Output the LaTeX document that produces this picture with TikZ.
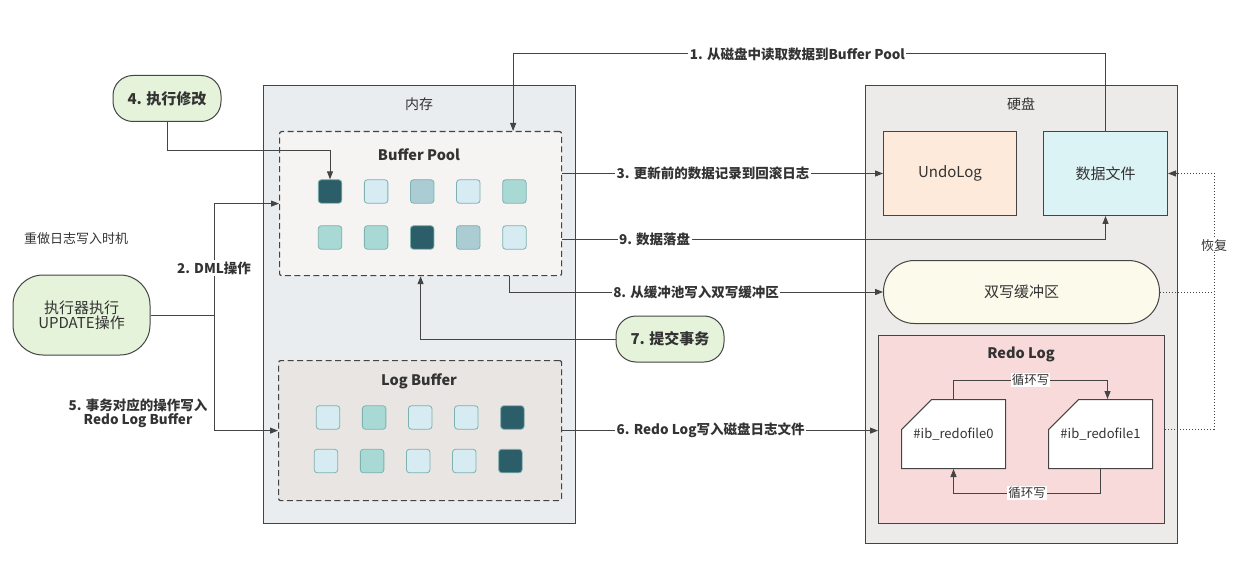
\documentclass[tikz,border=0pt]{standalone}
\usepackage{fontspec}
\setmainfont{Noto Sans CJK SC}
\usepackage{xcolor}
\usetikzlibrary{arrows.meta,positioning,shapes.misc,calc}
\definecolor{linec}{HTML}{444444}
\definecolor{memfill}{HTML}{E9EDEF}
\definecolor{bpfill}{HTML}{F5F4F2}
\definecolor{lbfill}{HTML}{E9E5E2}
\definecolor{diskfill}{HTML}{EDEBEA}
\definecolor{undofill}{HTML}{FDEADB}
\definecolor{datafill}{HTML}{DCF3F6}
\definecolor{dwfill}{HTML}{FCFAEB}
\definecolor{redofill}{HTML}{F9DADA}
\definecolor{greenfill}{HTML}{E4F3DA}
\definecolor{cdark}{HTML}{2C5E6A}
\definecolor{clight}{HTML}{D6EBF2}
\definecolor{cgrey}{HTML}{ABCCD3}
\definecolor{cteal}{HTML}{A9D9D4}
\definecolor{cellline}{HTML}{7DB2AE}
\definecolor{txt}{HTML}{333333}
\newcommand{\fs}[1]{\fontsize{#1}{#1}\selectfont}

\begin{document}
\begin{tikzpicture}[x=1pt,y=-1pt,font=\fs{13.5},text=txt,
  box/.style={draw=linec,line width=1pt,inner sep=0pt},
  pool/.style={draw=linec,line width=1.2pt,dash pattern=on 6pt off 3.5pt,rounded corners=2pt,inner sep=0pt},
  cell/.style={draw=cellline,line width=0.8pt,rounded corners=3pt,minimum size=23.5pt,inner sep=0pt},
  greenbox/.style={draw=linec,line width=1pt,fill=greenfill,inner sep=0pt},
  filebox/.style={draw=linec,line width=1pt,fill=white,chamfered rectangle,
    chamfered rectangle corners=north west,chamfered rectangle xsep=26pt,
    chamfered rectangle ysep=24pt,minimum width=104pt,minimum height=69pt,inner sep=0pt},
  conn/.style={draw=linec,line width=1pt,-{Triangle[length=8pt,width=6pt]}},
  plain/.style={draw=linec,line width=1pt},
  dots/.style={draw=linec,line width=1pt,dotted},
  lbl/.style={fill=white,inner sep=1.5pt,font=\fs{13.5}\bfseries},
  small/.style={fill=white,inner sep=1pt,font=\fs{12.5}}]
  \useasboundingbox (0,0) rectangle (1257,561);
  % memory side
  \node[box,fill=memfill,minimum width=312pt,minimum height=438pt,anchor=north west] (mem) at (263,85) {};
  \node[font=\fs{14}] (memtitle) at (419,104) {内存};
  \node[pool,fill=bpfill,minimum width=282pt,minimum height=144pt,anchor=north west] (bp) at (279,131) {};
  \node[font=\fs{14.5}\bfseries] (bptitle) at (419,155) {Buffer Pool};
  \node[pool,fill=lbfill,minimum width=283pt,minimum height=140pt,anchor=north west] (lb) at (278,360) {};
  \node[font=\fs{14.5}\bfseries] (lbtitle) at (419,381) {Log Buffer};
  % cells
  \foreach \c [count=\i] in {cdark,clight,cgrey,clight,cteal}
    \node[cell,fill=\c] (bpa\i) at ({330+46.1*(\i-1)},191.5) {};
  \foreach \c [count=\i] in {cteal,cteal,cdark,cgrey,clight}
    \node[cell,fill=\c] (bpb\i) at ({330+46.1*(\i-1)},237.5) {};
  \foreach \c [count=\i] in {clight,cteal,clight,clight,cdark}
    \node[cell,fill=\c] (lba\i) at ({328+46.1*(\i-1)},417.5) {};
  \foreach \c [count=\i] in {clight,cteal,clight,clight,cdark}
    \node[cell,fill=\c] (lbb\i) at ({326+46.1*(\i-1)},461) {};
  % disk side
  \node[box,fill=diskfill,minimum width=312pt,minimum height=458pt,anchor=north west] (disk) at (865,85) {};
  \node[font=\fs{14}] (disktitle) at (1021,104) {硬盘};
  \node[box,fill=undofill,minimum width=133pt,minimum height=84pt,anchor=north west,font=\fs{15}] (undo) at (883,131) {UndoLog};
  \node[box,fill=datafill,minimum width=124pt,minimum height=84pt,anchor=north west,font=\fs{15}] (data) at (1043,131) {数据文件};
  \node[box,fill=dwfill,rounded corners=31pt,minimum width=276pt,minimum height=63pt,anchor=north west,font=\fs{15}] (dw) at (883,260) {双写缓冲区};
  \node[box,fill=redofill,minimum width=286pt,minimum height=188pt,anchor=north west] (redo) at (878,335) {};
  \node[font=\fs{14.5}\bfseries] (redotitle) at (1021,354) {Redo Log};
  \node[filebox] (rf0) at (953.5,434) {\fs{13}\#ib\_redofile0};
  \node[filebox] (rf1) at (1100.5,434) {\fs{13}\#ib\_redofile1};
  % left side
  \node[greenbox,rounded corners=20pt,minimum width=108pt,minimum height=46pt,font=\fs{15}\bfseries] (modify) at (167,98.5) {4. 执行修改};
  \node[greenbox,rounded corners=30pt,minimum width=137pt,minimum height=80pt,align=center,font=\fs{15}] (exec) at (81.5,315) {执行器执行\\UPDATE操作};
  \node[font=\fs{13}] (timing) at (76,239) {重做日志写入时机};
  \node[align=center,font=\fs{13.5}\bfseries] (redobuf) at (138,413) {5. 事务对应的操作写入\\Redo Log Buffer};
  \node[greenbox,rounded corners=20pt,minimum width=108pt,minimum height=46pt,font=\fs{15}\bfseries] (commit) at (670,339) {7. 提交事务};
  % connectors
  \draw[conn] (data.north) -- ++(0,-77) -| ([xshift=92.5pt]bp.north)
    node[lbl,pos=0.26] {1. 从磁盘中读取数据到Buffer Pool};
  \coordinate (split) at (214,315);
  \draw[plain] (exec.east) -- (split);
  \draw[conn] (split) |- (bp.west) node[lbl,pos=0.21] {2. DML操作};
  \draw[conn] (split) |- (lb.west);
  \draw[conn] (undo.west -| bp.east) -- (undo.west) node[lbl,pos=0.47] {3. 更新前的数据记录到回滚日志};
  \draw[conn] (modify.south) |- ([yshift=29pt]bpa1.north) -- (bpa1.north);
  \draw[conn] (lb.east) -- (lb.east -| redo.west) node[lbl,pos=0.47] {6. Redo Log写入磁盘日志文件};
  \draw[conn] (commit.west) -| (bp.south);
  \draw[conn] ([xshift=88.5pt]bp.south) |- (dw.west) node[lbl,pos=0.75] {8. 从缓冲池写入双写缓冲区};
  \draw[conn] ([yshift=-36pt]bp.east) -| (data.south) node[lbl,pos=0.085] {9. 数据落盘};
  % circular write
  \draw[conn] (rf0.north) -- ++(0,-19) -| ([xshift=7pt]rf1.north) node[small,pos=0.25] {循环写};
  \draw[conn] (rf1.south) -- ++(0,24) -| (rf0.south) node[small,pos=0.25] {循环写};
  % recovery
  \draw[dots] (redo.east) -- ++(49,0) coordinate (rec);
  \draw[dots,-{Triangle[length=8pt,width=6pt]}] (rec) |- (data.east) node[small,fill=white,pos=0.36,font=\fs{13}] {恢复};
  \draw[dots] (dw.east) -- (dw.east -| rec);
\end{tikzpicture}
\end{document}
